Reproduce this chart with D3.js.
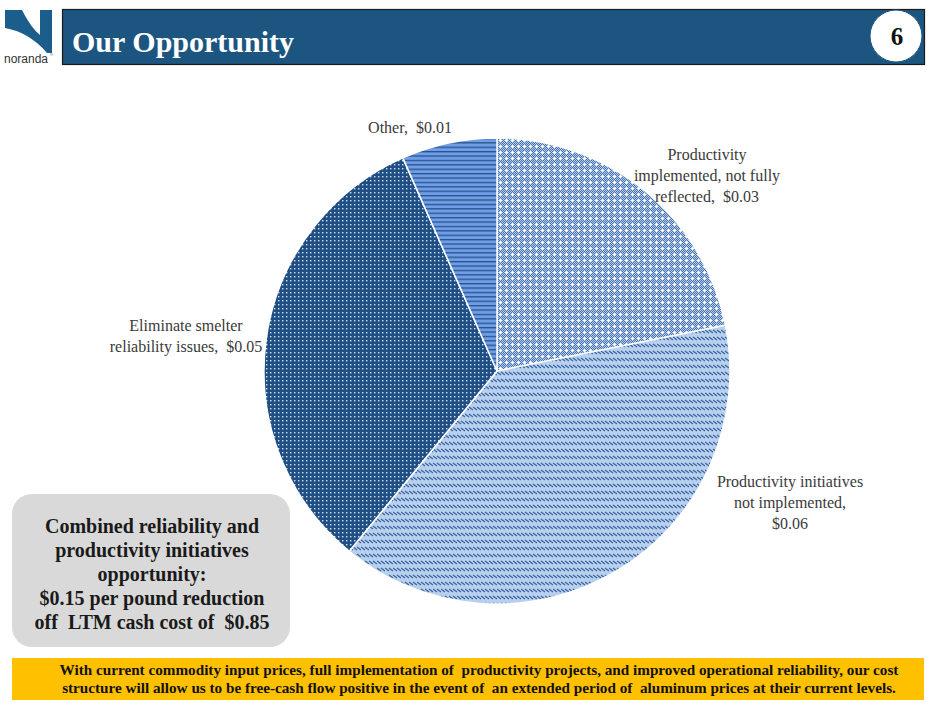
<!DOCTYPE html>
<html><head><meta charset="utf-8">
<script src="https://cdn.jsdelivr.net/npm/d3@7"></script>
<style>body{margin:0;background:#fff}svg{display:block}text{white-space:pre}</style>
</head><body>
<svg id="c" width="940" height="705"></svg>
<script>
// ---- data ----
const categories = ["Productivity implemented, not fully reflected", "Productivity initiatives not implemented", "Eliminate smelter reliability issues", "Other"];
const values = [0.033, 0.059, 0.049, 0.010];
const valueLabels = ["$0.03", "$0.06", "$0.05", "$0.01"];
const labelLines = [
  ["Productivity", "implemented, not fully", "reflected,  $0.03"],
  ["Productivity initiatives", "not implemented,", "$0.06"],
  ["Eliminate smelter", "reliability issues,  $0.05"],
  ["Other,  $0.01"]
];
const title = "Our Opportunity";
const pageNum = "6";
const boxLines = ["Combined reliability and", "productivity initiatives", "opportunity:", "$0.15 per pound reduction", "off  LTM cash cost of  $0.85"];
const footerLines = ["With current commodity input prices, full implementation of  productivity projects, and improved operational reliability, our cost",
  "structure will allow us to be free-cash flow positive in the event of  an extended period of  aluminum prices at their current levels."];

// ---- layout ----
const svg = d3.select("#c");
const defs = svg.append("defs");
const serif = "'Liberation Serif', 'DejaVu Serif', serif";

function pat(id, w, h, bg, draw) {
  const p = defs.append("pattern").attr("id", id).attr("patternUnits", "userSpaceOnUse").attr("width", w).attr("height", h);
  p.append("rect").attr("width", w).attr("height", h).attr("fill", bg);
  draw(p);
}
pat("p0", 6, 6, "#4572B0", p => {
  for (let y = 0; y < 6; y++) for (let x = 0; x < 6; x++) {
    if ((x + y) % 2 === 0) p.append("rect").attr("x", x).attr("y", y).attr("width", 1).attr("height", 1).attr("fill", "#BCCFEA");
  }
  p.append("rect").attr("x", 3).attr("y", 2).attr("width", 1).attr("height", 3).attr("fill", "#fff");
  p.append("rect").attr("x", 2).attr("y", 3).attr("width", 3).attr("height", 1).attr("fill", "#fff");
});
pat("p1", 8, 7, "#B9CFEE", p => {
  p.append("path").attr("d", "M0,1 L4,4 M4,1 L8,4").attr("stroke", "#36649F").attr("stroke-width", 1.2);
});
pat("p2", 4, 4, "#1F4E84", p => {
  p.append("rect").attr("x", 1).attr("y", 1).attr("width", 1.4).attr("height", 1.4).attr("fill", "#D8E4F4");
});
pat("p3", 4, 4.4, "#6F9DE6", p => {
  p.append("rect").attr("x", 0).attr("y", 0).attr("width", 4).attr("height", 1.3).attr("fill", "#25538C");
});

// header / logo
const logoBlue = "#1B5E8C";
svg.append("path").attr("fill", logoBlue)
  .attr("d", "M5,10 L22,10 C28,22 34,30 40,35 L40,10 L52,10 L52,53 L47,53 C36,40 22,31 5,28 Z");
svg.append("text").attr("x", 4).attr("y", 63).attr("font-family", "'Liberation Sans', Arial, sans-serif")
  .attr("font-size", 12).attr("fill", "#333").text("noranda");
svg.append("text").attr("x", 50).attr("y", 56).attr("font-family", "'Liberation Sans', Arial, sans-serif")
  .attr("font-size", 4).attr("fill", "#333").text("®");

svg.append("rect").attr("x", 62.5).attr("y", 9.5).attr("width", 862).attr("height", 55)
  .attr("fill", "#1B5580").attr("stroke", "#1a1a1a").attr("stroke-width", 1.2);
svg.append("text").attr("x", 72).attr("y", 52).attr("font-family", serif).attr("font-weight", "bold")
  .attr("font-size", 30).attr("fill", "#fff").text(title);
svg.append("circle").attr("cx", 896).attr("cy", 36).attr("r", 26).attr("fill", "#fff").attr("stroke", "#1B5580");
svg.append("text").attr("x", 897).attr("y", 45).attr("text-anchor", "middle").attr("font-family", serif)
  .attr("font-weight", "bold").attr("font-size", 25).attr("fill", "#111").text(pageNum);

// pie
const cx = 497, cy = 371, R = 233;
const pie = d3.pie().sort(null).value(d => d)(values);
const arc = d3.arc().innerRadius(0).outerRadius(R);
const g = svg.append("g").attr("transform", `translate(${cx},${cy})`);
g.selectAll("path").data(pie).join("path")
  .attr("d", arc).attr("fill", (d, i) => `url(#p${i})`)
  .attr("stroke", "#fff").attr("stroke-width", 1.5).attr("stroke-linejoin", "round");

// labels
const labelPos = [[707, 160], [790, 487], [186, 331], [410, 133]];
labelLines.forEach((lines, i) => {
  const t = svg.append("text").attr("font-family", serif).attr("font-size", 16).attr("fill", "#3a3a3a")
    .attr("text-anchor", "middle");
  lines.forEach((l, j) => t.append("tspan").attr("x", labelPos[i][0]).attr("y", labelPos[i][1] + j * 21).text(l));
});

// gray box
svg.append("rect").attr("x", 12).attr("y", 494).attr("width", 278).attr("height", 153).attr("rx", 20)
  .attr("fill", "#D9D9D9");
const bt = svg.append("text").attr("font-family", serif).attr("font-weight", "bold").attr("font-size", 20)
  .attr("fill", "#1a1a1a").attr("text-anchor", "middle");
boxLines.forEach((l, j) => bt.append("tspan").attr("x", 152).attr("y", 533 + j * 24).text(l));

// footer
svg.append("rect").attr("x", 12).attr("y", 658).attr("width", 912).attr("height", 42).attr("fill", "#FFC000");
const ft = svg.append("text").attr("font-family", serif).attr("font-weight", "bold").attr("font-size", 15.2)
  .attr("fill", "#111").attr("text-anchor", "middle");
footerLines.forEach((l, j) => ft.append("tspan").attr("x", 479).attr("y", 675 + j * 18).text(l));
</script>
</body></html>
